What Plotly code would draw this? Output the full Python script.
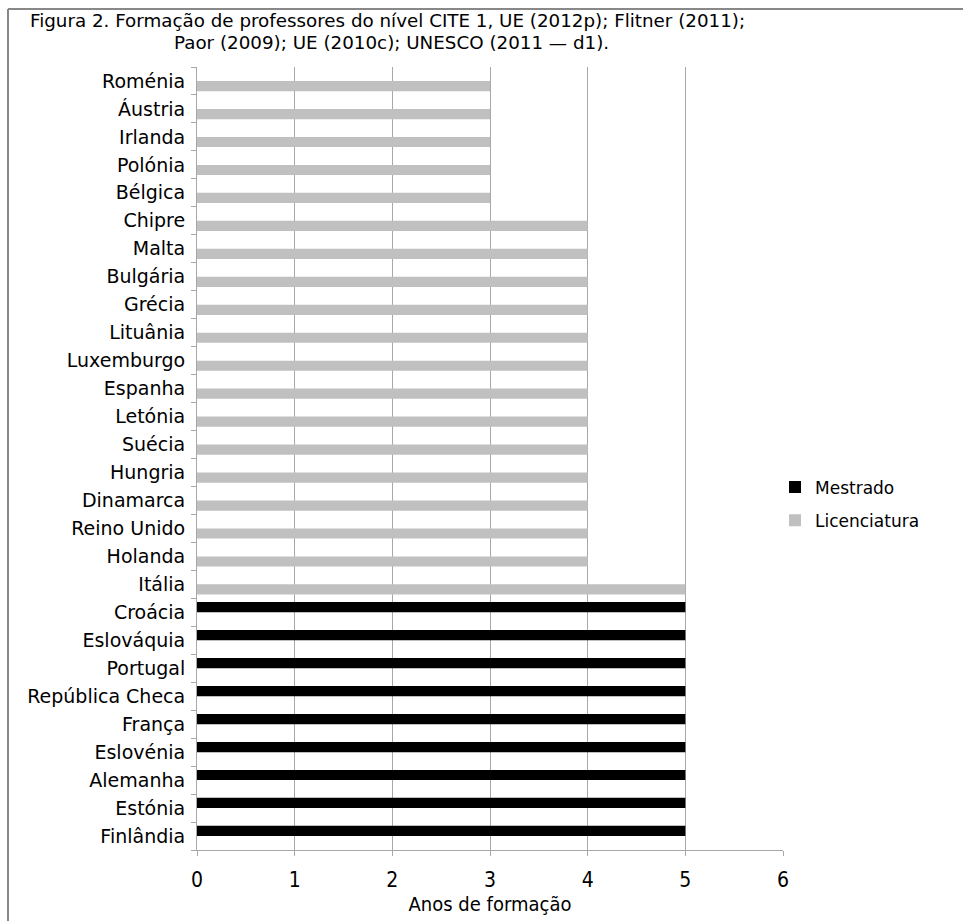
import plotly.graph_objects as go

# Countries listed bottom-to-top (first category sits at the bottom of a horizontal bar chart)
countries = [
    "Finlândia", "Estónia", "Alemanha", "Eslovénia", "França", "República Checa",
    "Portugal", "Eslováquia", "Croácia", "Itália", "Holanda", "Reino Unido",
    "Dinamarca", "Hungria", "Suécia", "Letónia", "Espanha", "Luxemburgo",
    "Lituânia", "Grécia", "Bulgária", "Malta", "Chipre", "Bélgica", "Polónia",
    "Irlanda", "Áustria", "Roménia",
]

# Years of training required (None = qualification not applicable)
mestrado = [5, 5, 5, 5, 5, 5, 5, 5, 5] + [None] * 19
licenciatura = [None] * 9 + [5] + [4] * 13 + [3] * 5

x_ticks = [0, 1, 2, 3, 4, 5, 6]

FONT = "DejaVu Sans"
FONT_C = "DejaVu Sans Condensed"

# plot area in pixels
L, R, T, B = 197, 180, 67, 71
PW, PH = 963 - L - R, 921 - T - B


def px_x(p):
    return (p - L) / PW


def px_y(p):
    return 1 - (p - T) / PH


fig = go.Figure()
# Licenciatura first so it sits in the lower half of each category slot
fig.add_trace(go.Bar(
    y=countries, x=licenciatura, orientation="h", name="Licenciatura",
    legendgroup="lic", legendrank=2,
    marker=dict(color="#c0c0c0", line=dict(width=0)),
))
fig.add_trace(go.Bar(
    y=countries, x=mestrado, orientation="h", name="Mestrado",
    legendgroup="mes", legendrank=1,
    marker=dict(color="#000000", line=dict(width=0)),
))

fig.update_layout(
    width=963, height=921,
    margin=dict(l=L, r=R, t=T, b=B),
    paper_bgcolor="white", plot_bgcolor="white",
    barmode="group", bargap=0.27, bargroupgap=0,
    font=dict(family=FONT, size=18, color="#000000"),
    showlegend=True,
    legend=dict(
        x=px_x(775), y=px_y(504), xanchor="left", yanchor="middle",
        traceorder="grouped", font=dict(size=17),
        itemwidth=30, tracegroupgap=8,
    ),
    xaxis=dict(
        range=[0, 6], tickvals=x_ticks, ticktext=[str(v) for v in x_ticks],
        showgrid=True, gridcolor="#a8a8a8", gridwidth=1,
        showline=True, linecolor="#a8a8a8", linewidth=1,
        ticks="outside", ticklen=5, tickcolor="#a8a8a8",
        tickfont=dict(family=FONT_C, size=21), zeroline=False,
        ticklabelstandoff=6,
        title=dict(text="Anos de formação", font=dict(family=FONT_C, size=20), standoff=0),
    ),
    yaxis=dict(
        type="category", categoryorder="array", categoryarray=countries,
        showline=True, linecolor="#a8a8a8", linewidth=1,
        ticks="outside", ticklen=5, tickcolor="#a8a8a8",
        tickson="boundaries", showgrid=False,
        tickfont=dict(size=19), ticklabelstandoff=7,
    ),
    annotations=[
        dict(text="Figura 2. Formação de professores do nível CITE 1, UE (2012p); Flitner (2011);",
             xref="paper", yref="paper", x=px_x(28), y=px_y(20),
             xanchor="left", yanchor="middle", showarrow=False, font=dict(size=18.3)),
        dict(text="Paor (2009); UE (2010c); UNESCO (2011 — d1).",
             xref="paper", yref="paper", x=px_x(172), y=px_y(42),
             xanchor="left", yanchor="middle", showarrow=False, font=dict(size=18.3)),
    ],
    shapes=[
        # frame around the figure (left and top edges)
        dict(type="line", xref="paper", yref="paper",
             x0=px_x(8), x1=px_x(8), y0=px_y(925), y1=px_y(9),
             line=dict(color="#888888", width=2)),
        dict(type="line", xref="paper", yref="paper",
             x0=px_x(8), x1=px_x(965), y0=px_y(9), y1=px_y(9),
             line=dict(color="#888888", width=2)),
    ],
)

fig.write_html("out.html")
